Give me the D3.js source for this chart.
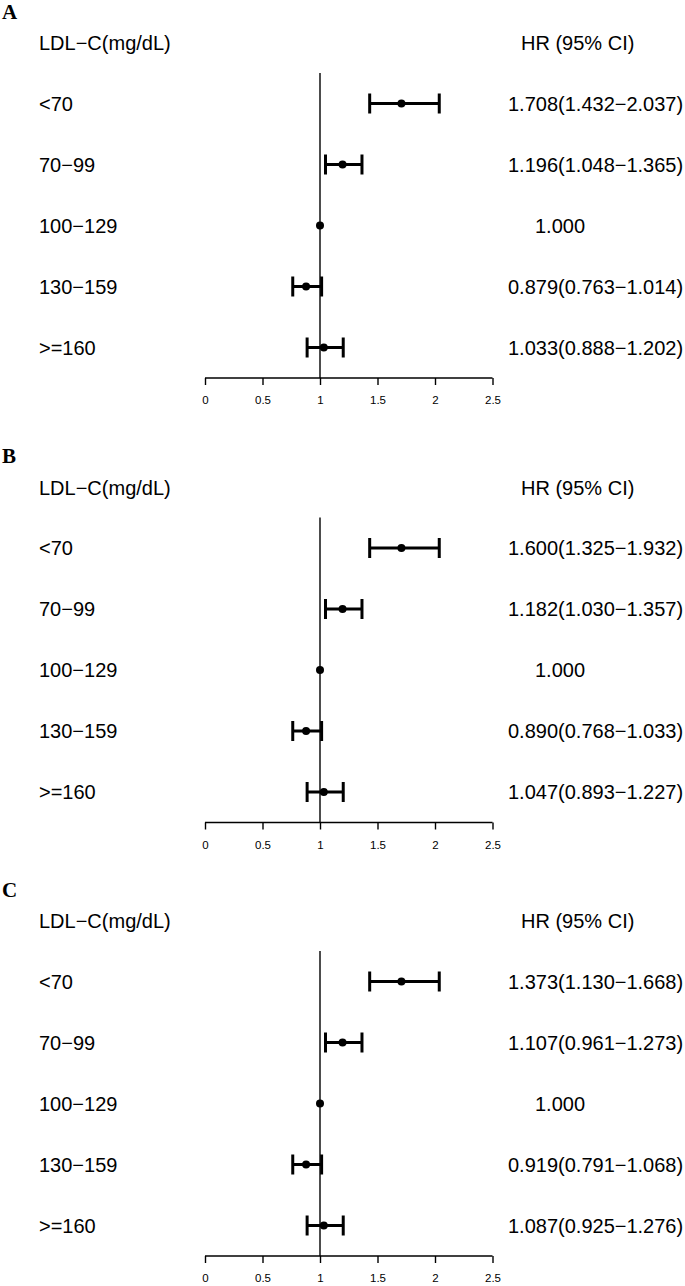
<!DOCTYPE html>
<html>
<head>
<meta charset="utf-8">
<script src="https://cdn.jsdelivr.net/npm/d3@7"></script>
<style>
  body { margin: 0; background: #fff; }
  svg text { font-family: "Liberation Sans", Arial, sans-serif; }
</style>
</head>
<body>
<svg id="chart" width="685" height="1286"></svg>
<script>
// categories
const groups = ["<70", "70\u221299", "100\u2212129", "130\u2212159", ">=160"];
const panels = ["A", "B", "C"];

// plotted estimates (the three panels share the same drawn points)
const hr = [1.708, 1.196, 1.000, 0.879, 1.033];
const lo = [1.432, 1.048, null, 0.763, 0.888];
const hi = [2.037, 1.365, null, 1.014, 1.202];

// printed HR (95% CI) labels per panel
const labelsA = ["1.708(1.432\u22122.037)", "1.196(1.048\u22121.365)", "1.000", "0.879(0.763\u22121.014)", "1.033(0.888\u22121.202)"];
const labelsB = ["1.600(1.325\u22121.932)", "1.182(1.030\u22121.357)", "1.000", "0.890(0.768\u22121.033)", "1.047(0.893\u22121.227)"];
const labelsC = ["1.373(1.130\u22121.668)", "1.107(0.961\u22121.273)", "1.000", "0.919(0.791\u22121.068)", "1.087(0.925\u22121.276)"];
const panelLabels = [labelsA, labelsB, labelsC];

const xTicks = [0, 0.5, 1, 1.5, 2, 2.5];

let svg = d3.select("#chart");
let offsets = [0, 444.5, 878];

let x = d3.scaleLinear().domain([0, 2.5]).range([205, 492.5]);

panels.forEach((p, k) => {
  let g = svg.append("g").attr("transform", `translate(0,${offsets[k]})`);
  let y = d3.scaleLinear().domain([0.5, 5.5]).range([73, 378]);
  let rows = groups.map((name, i) => ({ name, i, hr: hr[i], lo: lo[i], hi: hi[i], label: panelLabels[k][i] }));

  g.append("text")
    .attr("x", 2).attr("y", 18.5)
    .style("font-family", "'Liberation Serif', 'Times New Roman', serif")
    .style("font-weight", "bold")
    .style("font-size", "21px")
    .text(p);

  g.append("text")
    .attr("x", 39).attr("y", 50)
    .style("font-size", "20px")
    .text("LDL\u2212C(mg/dL)");
  g.append("text")
    .attr("x", 521).attr("y", 50)
    .style("font-size", "20px")
    .text("HR (95% CI)");

  // reference line at HR = 1
  g.append("line")
    .attr("x1", x(1)).attr("x2", x(1))
    .attr("y1", y(0.5)).attr("y2", y(5.5))
    .attr("stroke", "#000").attr("stroke-width", 1.4);

  // x axis
  let ax = g.append("g")
    .attr("transform", `translate(0,${y(5.5)})`)
    .call(d3.axisBottom(x).tickValues(xTicks).tickFormat(d3.format("")).tickSize(7).tickPadding(11).tickSizeOuter(0));
  ax.select(".domain").attr("stroke-width", 1.4).attr("d", `M${x(0)},0H${x(2.5)}`);
  ax.selectAll(".tick line").attr("stroke-width", 1.4);
  ax.selectAll(".tick text").style("font-size", "11.5px").style("font-family", "'Liberation Sans', Arial, sans-serif");

  // row labels
  g.selectAll(".rowlab").data(rows).enter().append("text")
    .attr("x", 39).attr("y", d => y(d.i + 1) + 7)
    .style("font-size", "20px")
    .text(d => d.name);

  g.selectAll(".hrlab").data(rows).enter().append("text")
    .attr("x", d => d.lo == null ? 535 : 508)
    .attr("y", d => y(d.i + 1) + 7)
    .style("font-size", "20px")
    .text(d => d.label);

  let ci = rows.filter(d => d.lo != null);
  g.selectAll(".ci").data(ci).enter().append("line")
    .attr("x1", d => x(d.lo)).attr("x2", d => x(d.hi))
    .attr("y1", d => y(d.i + 1)).attr("y2", d => y(d.i + 1))
    .attr("stroke", "#000").attr("stroke-width", 3);
  ["lo", "hi"].forEach(key => {
    g.selectAll(".cap" + key).data(ci).enter().append("line")
      .attr("x1", d => x(d[key])).attr("x2", d => x(d[key]))
      .attr("y1", d => y(d.i + 1) - 10).attr("y2", d => y(d.i + 1) + 10)
      .attr("stroke", "#000").attr("stroke-width", 3);
  });

  g.selectAll(".dot").data(rows).enter().append("circle")
    .attr("cx", d => x(d.hr)).attr("cy", d => y(d.i + 1))
    .attr("r", 4).attr("fill", "#000");
});
</script>
</body>
</html>
